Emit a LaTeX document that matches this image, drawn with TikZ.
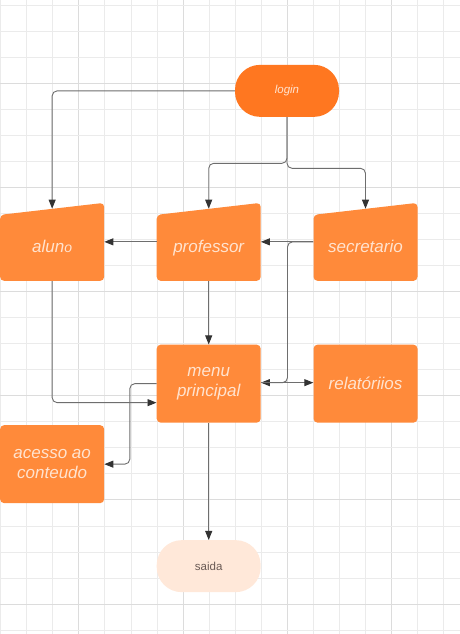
\documentclass[tikz,border=0pt]{standalone}
\usepackage{fontspec}
\setmainfont{Liberation Sans}
\usetikzlibrary{arrows.meta,calc}
\definecolor{gridminor}{HTML}{EBEBEB}
\definecolor{gridmajor}{HTML}{DCDCDC}
\definecolor{loginfill}{HTML}{FF7720}
\definecolor{boxfill}{HTML}{FF8A3A}
\definecolor{boxtext}{HTML}{FFE3CF}
\definecolor{endfill}{HTML}{FFE8D9}
\definecolor{endtext}{HTML}{6A5A55}
\definecolor{linecol}{HTML}{6E6E6E}
\definecolor{tipcol}{HTML}{333333}
\newcommand{\lowtxt}[1]{\raisebox{-10.5pt}[0pt][0pt]{#1}}
\tikzset{
  boxtxt/.style={text=boxtext, font=\fontsize{17}{20}\selectfont\itshape, align=center},
  rbox/.style={boxtxt, fill=boxfill, rounded corners=4pt, minimum width=104pt, minimum height=78pt, inner sep=0pt},
  manual/.style={boxtxt, minimum width=104pt, minimum height=78pt, inner sep=0pt,
    path picture={\fill[boxfill, rounded corners=4pt] (path picture bounding box.south west) -- ([yshift=-12pt]path picture bounding box.north west) -- (path picture bounding box.north east) -- (path picture bounding box.south east) -- cycle;}},
  pill/.style={rounded corners=25pt, minimum width=104pt, minimum height=52pt, inner sep=0pt},
  edge/.style={draw=linecol, line width=0.9pt, rounded corners=5pt, -{Triangle[length=9pt,width=7pt,fill=tipcol,color=tipcol]}},
}
\begin{document}
\begin{tikzpicture}[x=1pt,y=-1pt]
\fill[white] (0,0) rectangle (460,634);
\useasboundingbox (0,0) rectangle (460,634);
% grid
\foreach \k in {0,...,17}{
  \pgfmathsetmacro{\xx}{0.8+\k*26.04}
  \pgfmathtruncatemacro{\m}{mod(\k,4)}
  \ifnum\m=3 \draw[gridmajor, line width=1pt] (\xx,0) -- (\xx,634);
  \else \draw[gridminor, line width=1pt] (\xx,0) -- (\xx,634); \fi
}
\foreach \k in {0,...,24}{
  \pgfmathsetmacro{\yy}{5.2+\k*26.04}
  \pgfmathtruncatemacro{\m}{mod(\k,4)}
  \ifnum\m=3 \draw[gridmajor, line width=1pt] (0,\yy) -- (460,\yy);
  \else \draw[gridminor, line width=1pt] (0,\yy) -- (460,\yy); \fi
}
% nodes
\node[pill, fill=loginfill, text=boxtext, font=\fontsize{11.5}{13}\selectfont\itshape] (login) at (287,90.85) {login};
\node[manual] (aluno) at (52.15,241.85) {\lowtxt{alun{\fontsize{14}{14}\selectfont o}}};
\node[manual] (prof) at (208.7,241.85) {\lowtxt{professor}};
\node[manual] (sec) at (365.5,241.85) {\lowtxt{secretario}};
\node[rbox] (menu) at (208.7,383.65) {menu\\principal};
\node[rbox] (rel) at (365.5,383.65) {relatóriios};
\node[rbox] (acesso) at (52.15,464.15) {acesso ao\\conteudo};
\node[pill, fill=endfill, text=endtext, font=\fontsize{11.5}{13}\selectfont] (saida) at (208.7,566.15) {saida};
% junctions
\coordinate (j1) at (287,163.3);
\coordinate (j2) at (287,168.3);
% edges
\draw[edge] (login.west) -| ($(aluno.north)+(0,6)$);
\draw[edge] (login.south) -- (j1) -| ($(prof.north)+(0,6)$);
\draw[edge] (login.south) -- (j2) -| ($(sec.north)+(0,6)$);
\draw[edge] (prof.west) -- (aluno.east);
\draw[edge] (sec.west) -- (prof.east);
\draw[edge] (prof.south) -- (menu.north);
\draw[edge] (aluno.south) |- ([yshift=-19pt]menu.west);
\draw[edge] (sec.west) -| ($(menu.east)+(26.6,-1)$) -- ($(menu.east)+(0,-1)$);
\draw[edge] ($(menu.east)+(0,-1)$) -- ($(rel.west)+(0,-1)$);
\draw[edge] (menu.west) -- ++(-26.7,0) |- (acesso.east);
\draw[edge] (menu.south) -- (saida.north);
\end{tikzpicture}
\end{document}
